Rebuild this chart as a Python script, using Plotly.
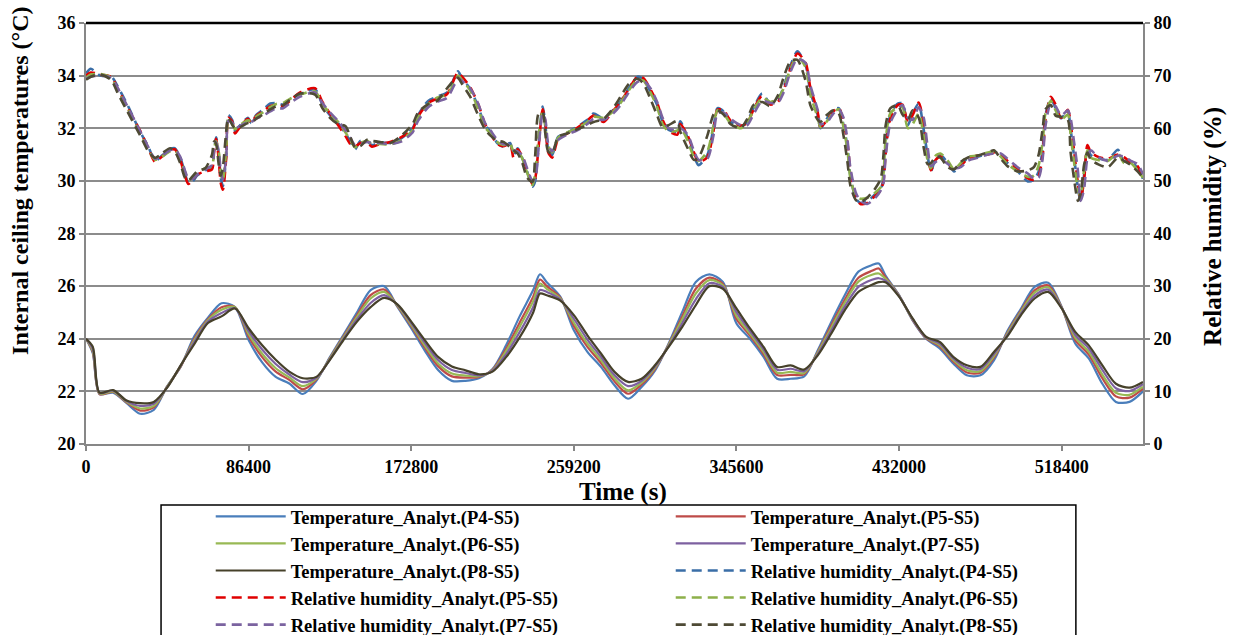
import plotly.graph_objects as go

# ---------------------------------------------------------------------------
# Sampling instants (hours) of the internal ceiling temperature series
temp_hours = ([0, 1, 2] + list(range(4, 67, 2)) + [67]
              + list(range(68, 117, 2)) + [117] + list(range(118, 157, 2)))

temp_p4 = [24.0, 23.45, 21.9,
           21.95, 21.55, 21.15, 21.3, 22.2, 22.95, 24.1, 24.8, 25.35, 25.2,
           23.95, 23.1, 22.55, 22.3, 21.9, 22.4, 23.3, 24.15, 25.0, 25.85,
           26.0, 25.2, 24.4, 23.55, 22.8, 22.4, 22.4, 22.5, 22.85, 23.75,
           24.85, 25.85,
           26.45,
           26.15, 25.6, 24.32, 23.5, 22.93, 22.23, 21.72, 22.17, 22.8, 23.82,
           25.02, 26.16, 26.45, 26.16, 24.58, 24.0, 23.31, 22.48, 22.48, 22.57,
           23.56, 24.64, 25.66, 26.55, 26.8,
           26.86,
           26.4, 25.66, 24.7, 24.0, 23.63, 23.06, 22.61, 22.61, 23.18, 24.3,
           25.15, 25.97, 26.13, 25.21, 23.82, 23.25, 22.29, 21.6, 21.6, 22.0]

temp_p5 = [24.0, 23.5, 21.9,
           21.98, 21.58, 21.27, 21.39, 22.19, 22.96, 24.01, 24.74, 25.2, 25.2,
           24.09, 23.3, 22.75, 22.44, 22.08, 22.45, 23.27, 24.09, 24.9, 25.66,
           25.87, 25.23, 24.48, 23.67, 22.95, 22.57, 22.52, 22.55, 22.82, 23.62,
           24.61, 25.6,
           26.25,
           26.0, 25.56, 24.49, 23.69, 23.08, 22.38, 21.91, 22.26, 22.86, 23.78,
           24.85, 25.9, 26.32, 26.08, 24.75, 24.12, 23.42, 22.62, 22.63, 22.65,
           23.5, 24.51, 25.49, 26.32, 26.58,
           26.67,
           26.33, 25.64, 24.72, 24.02, 23.71, 23.14, 22.72, 22.71, 23.28, 24.24,
           25.08, 25.84, 26.03, 25.19, 23.95, 23.4, 22.5, 21.81, 21.76, 22.11]

temp_p6 = [24.0, 23.55, 21.92,
           22.0, 21.6, 21.35, 21.45, 22.18, 22.98, 23.95, 24.7, 25.1, 25.2,
           24.18, 23.43, 22.88, 22.53, 22.2, 22.48, 23.25, 24.05, 24.83, 25.53,
           25.78, 25.25, 24.53, 23.75, 23.05, 22.68, 22.6, 22.58, 22.8, 23.53,
           24.45, 25.43,
           26.1,
           25.9, 25.53, 24.61, 23.82, 23.19, 22.49, 22.04, 22.33, 22.9, 23.76,
           24.74, 25.72, 26.23, 26.03, 24.87, 24.2, 23.5, 22.71, 22.74, 22.7,
           23.47, 24.42, 25.38, 26.17, 26.43,
           26.48,
           26.28, 25.63, 24.74, 24.04, 23.76, 23.19, 22.8, 22.77, 23.34, 24.2,
           25.03, 25.75, 25.96, 25.18, 24.04, 23.5, 22.64, 21.95, 21.87, 22.18]

temp_p7 = [24.0, 23.62, 21.94,
           22.03, 21.63, 21.45, 21.53, 22.16, 22.99, 23.88, 24.65, 24.98, 25.16,
           24.29, 23.59, 23.04, 22.64, 22.35, 22.51, 23.22, 24.0, 24.74, 25.36,
           25.66, 25.28, 24.59, 23.85, 23.18, 22.81, 22.7, 22.61, 22.78, 23.41,
           24.25, 25.21,
           25.85,
           25.78, 25.49, 24.76, 23.97, 23.31, 22.61, 22.2, 22.4, 22.95, 23.72,
           24.59, 25.5, 26.11, 25.97, 25.01, 24.29, 23.6, 22.82, 22.86, 22.77,
           23.42, 24.31, 25.23, 25.97, 26.24,
           26.3,
           26.21, 25.62, 24.75, 24.05, 23.82, 23.25, 22.9, 22.85, 23.42, 24.15,
           24.96, 25.64, 25.87, 25.17, 24.15, 23.63, 22.82, 22.12, 22.01, 22.27]

temp_p8 = [24.0, 23.7, 21.95,
           22.05, 21.65, 21.55, 21.6, 22.15, 23.0, 23.8, 24.6, 24.85, 25.15,
           24.4, 23.75, 23.2, 22.75, 22.5, 22.55, 23.2, 23.95, 24.65, 25.2,
           25.55, 25.3, 24.65, 23.95, 23.3, 22.95, 22.8, 22.65, 22.75, 23.3,
           24.05, 25.0,
           25.72,
           25.65, 25.45, 24.9, 24.13, 23.44, 22.74, 22.36, 22.48, 23.0, 23.69,
           24.45, 25.28, 26.0, 25.9, 25.15, 24.39, 23.69, 22.93, 22.99, 22.83,
           23.37, 24.2, 25.09, 25.78, 26.05,
           26.15,
           26.15, 25.6, 24.77, 24.07, 23.88, 23.31, 22.99, 22.93, 23.5, 24.1,
           24.9, 25.53, 25.78, 25.15, 24.26, 23.75, 22.99, 22.29, 22.14, 22.36]

# ---------------------------------------------------------------------------
# Sampling instants (hours) of the relative humidity series
hum_hours = [0.0, 0.7, 2.1, 3.7, 4.7, 6.1, 8.0, 9.2, 10.2, 11.2,
             12.4, 13.1, 13.9, 14.6, 15.1, 15.8, 16.4, 17.6, 18.6, 18.9,
             19.2, 19.6, 19.9, 20.2, 20.7, 21.0, 21.6, 22.0, 22.7, 23.9,
             24.4, 25.1, 26.1, 27.2, 28.1, 29.1, 30.1, 31.6, 33.8, 34.9,
             36.0, 37.2, 38.3, 39.0, 39.7, 40.5, 41.5, 42.2, 43.4, 44.9,
             46.4, 48.2, 49.0, 50.5, 51.8, 53.3, 54.5, 54.9, 55.5, 56.7,
             57.9, 58.9, 59.7, 60.7, 61.6, 62.6, 63.1, 63.7, 64.4, 65.1,
             65.9, 66.3, 66.8, 67.4, 67.8, 68.2, 68.8, 69.7, 71.0, 72.5,
             74.0, 74.9, 76.4, 77.8, 78.9, 80.1, 81.4, 82.3, 83.3, 84.3,
             85.1, 86.0, 87.3, 87.7, 88.8, 89.7, 90.4, 91.7, 92.6, 93.2,
             94.1, 95.1, 96.6, 97.6, 98.5, 99.8, 101.0, 102.1, 102.9, 104.0,
             105.0, 106.2, 106.9, 108.0, 108.4, 109.4, 110.3, 111.1, 111.8, 112.4,
             112.8, 113.6, 114.3, 115.3, 116.5, 117.3, 117.7, 118.0, 118.7, 119.8,
             120.5, 121.3, 122.0, 122.9, 123.6, 124.2, 124.7, 125.4, 126.1, 127.2,
             128.1, 129.1, 130.1, 131.6, 133.1, 134.0, 135.0, 136.0, 137.5, 139.0,
             139.9, 140.6, 141.2, 141.6, 142.4, 143.1, 143.9, 144.9, 145.3, 145.8,
             146.4, 146.8, 147.3, 147.8, 148.3, 149.3, 150.8, 152.3, 153.2, 154.2,
             155.2, 156.0]

rh_p4 = [70.4, 71.3, 70.0, 69.9, 67.9, 64.5, 59.3, 56.5, 53.8, 54.8,
         56.0, 56.2, 54.5, 51.5, 49.6, 50.0, 51.0, 52.0, 52.5, 56.0,
         58.3, 55.0, 50.5, 49.0, 55.0, 62.5, 61.5, 59.5, 60.5, 62.0,
         61.0, 62.5, 63.5, 64.7, 64.8, 64.5, 65.5, 66.5, 67.4, 64.5,
         62.5, 61.0, 59.0, 57.5, 56.0, 57.6, 57.5, 56.8, 57.3, 57.2,
         58.0, 60.0, 62.5, 65.2, 66.0, 66.8, 70.0, 70.8, 69.5, 67.5,
         64.0, 60.6, 59.4, 57.2, 56.5, 57.2, 54.9, 56.2, 54.3, 51.8,
         48.9, 50.0, 57.5, 64.1, 60.6, 56.2, 54.9, 58.4, 59.1, 60.3,
         61.6, 62.8, 61.9, 63.5, 65.1, 67.6, 69.8, 69.2, 67.0, 64.4,
         61.3, 59.7, 59.4, 61.3, 58.1, 54.9, 53.0, 54.9, 60.0, 63.8,
         63.2, 61.3, 60.3, 61.3, 63.8, 66.6, 64.7, 65.4, 67.6, 72.0,
         74.6, 72.0, 67.0, 62.5, 60.0, 61.9, 63.5, 63.8, 60.6, 56.2,
         51.1, 46.7, 45.8, 46.1, 47.5, 48.5, 50.5, 56.2, 62.5, 64.7,
         64.7, 60.6, 62.8, 64.7, 60.0, 54.9, 51.8, 54.3, 54.9, 53.4,
         51.8, 53.0, 54.3, 54.6, 55.2, 55.6, 54.9, 53.4, 51.8, 49.9,
         50.2, 51.8, 56.2, 62.5, 65.7, 63.8, 61.9, 63.2, 60.0, 54.9,
         48.6, 46.1, 51.1, 56.2, 54.9, 54.3, 54.0, 55.9, 53.7, 53.7,
         52.4, 50.4]

rh_p5 = [70.0, 70.6, 70.2, 69.8, 67.5, 64.0, 59.5, 56.2, 53.6, 54.6,
         55.8, 56.0, 54.0, 51.0, 49.4, 50.3, 51.2, 51.8, 52.2, 55.5,
         58.0, 54.0, 49.5, 48.3, 54.5, 62.0, 61.2, 59.0, 60.2, 61.8,
         61.0, 62.3, 63.2, 64.2, 64.5, 64.2, 65.2, 66.8, 67.6, 65.0,
         62.8, 60.6, 58.5, 57.0, 56.5, 57.2, 57.3, 56.5, 57.0, 57.4,
         58.2, 59.8, 62.2, 64.8, 65.6, 66.5, 69.8, 70.6, 69.8, 67.8,
         64.5, 60.8, 59.0, 57.0, 56.6, 57.0, 54.4, 56.0, 54.6, 52.0,
         49.4, 50.5, 56.5, 63.6, 61.0, 55.5, 54.4, 58.0, 59.0, 60.1,
         61.5, 62.4, 61.2, 63.3, 65.0, 67.4, 69.8, 69.5, 67.4, 64.8,
         61.6, 59.5, 58.8, 60.8, 58.6, 55.5, 53.6, 54.5, 59.4, 63.5,
         63.4, 61.5, 60.5, 61.0, 63.5, 66.2, 64.5, 65.0, 67.0, 71.5,
         74.2, 72.5, 67.8, 63.0, 60.2, 61.6, 63.2, 63.9, 61.2, 57.0,
         52.0, 47.0, 45.6, 45.8, 47.2, 48.2, 50.0, 55.0, 61.8, 64.4,
         64.5, 61.2, 62.5, 64.9, 61.0, 55.5, 52.0, 54.0, 54.6, 53.5,
         52.0, 52.8, 54.2, 54.8, 55.0, 55.4, 55.0, 53.8, 52.2, 50.5,
         50.2, 51.0, 55.0, 61.5, 66.0, 64.5, 62.0, 63.5, 61.0, 56.0,
         49.5, 46.5, 50.0, 56.8, 55.5, 54.6, 54.2, 55.0, 54.5, 53.5,
         52.8, 50.2]

rh_p6 = [69.6, 70.2, 70.3, 69.6, 67.2, 63.8, 59.0, 56.0, 54.0, 54.6,
         55.6, 55.8, 54.2, 51.8, 50.2, 50.6, 51.5, 52.4, 52.8, 56.2,
         57.5, 55.5, 51.5, 50.0, 56.0, 61.8, 60.8, 59.8, 60.6, 61.5,
         61.4, 62.2, 63.0, 64.0, 64.6, 64.8, 65.6, 66.4, 67.0, 64.6,
         62.8, 61.2, 59.2, 57.8, 56.4, 57.2, 57.6, 57.0, 57.0, 56.9,
         57.6, 59.6, 62.0, 64.6, 65.8, 66.4, 69.0, 70.0, 69.2, 67.2,
         63.6, 60.2, 59.0, 57.4, 56.8, 57.0, 55.6, 55.8, 54.2, 51.6,
         49.2, 51.5, 58.5, 63.2, 60.2, 56.8, 55.4, 58.2, 59.2, 60.0,
         61.2, 62.2, 62.0, 63.2, 64.8, 67.2, 69.2, 69.0, 66.8, 64.0,
         60.8, 59.4, 59.6, 60.2, 57.6, 54.6, 53.8, 55.6, 60.4, 63.4,
         62.8, 61.0, 60.0, 61.0, 63.4, 65.8, 65.0, 65.6, 67.4, 71.4,
         73.6, 71.6, 66.4, 62.0, 60.2, 61.4, 63.0, 63.6, 60.2, 55.6,
         50.6, 47.2, 46.6, 46.8, 47.8, 48.8, 51.4, 57.6, 62.8, 64.0,
         64.0, 60.0, 60.8, 62.8, 58.8, 54.0, 52.4, 54.8, 55.2, 53.8,
         52.2, 53.4, 54.6, 54.8, 55.4, 55.6, 54.6, 53.2, 51.8, 50.8,
         51.0, 53.0, 57.5, 62.8, 65.2, 63.4, 61.6, 62.6, 59.0, 53.8,
         48.4, 47.0, 52.0, 55.8, 54.4, 54.0, 53.8, 55.2, 53.4, 53.4,
         52.0, 50.6]

rh_p7 = [69.4, 69.8, 70.0, 69.6, 67.6, 64.2, 59.4, 56.4, 54.2, 54.8,
         55.8, 56.0, 54.6, 52.0, 50.4, 50.4, 51.2, 52.2, 53.0, 55.8,
         57.4, 55.4, 51.8, 50.2, 54.6, 61.4, 61.0, 60.0, 60.4, 61.2,
         61.2, 61.8, 62.4, 63.2, 63.8, 63.8, 64.8, 66.0, 66.8, 64.8,
         63.0, 61.4, 59.6, 58.2, 56.8, 57.0, 57.4, 57.2, 57.2, 57.0,
         57.4, 59.2, 61.4, 64.0, 65.0, 65.8, 68.6, 69.6, 69.0, 67.6,
         64.6, 61.0, 59.6, 57.8, 57.0, 56.8, 55.8, 55.6, 54.8, 52.4,
         50.0, 50.4, 56.4, 62.8, 61.6, 57.2, 55.6, 57.8, 58.8, 59.6,
         60.8, 61.8, 61.6, 62.8, 64.4, 66.8, 68.8, 69.0, 67.6, 65.0,
         62.0, 60.0, 59.6, 60.0, 58.8, 55.8, 54.0, 54.2, 58.6, 62.8,
         63.0, 61.8, 60.6, 60.6, 62.6, 65.2, 64.8, 64.8, 66.6, 70.8,
         73.2, 72.4, 68.2, 63.4, 60.8, 61.2, 62.8, 63.6, 62.0, 57.6,
         52.6, 47.8, 46.2, 45.6, 46.8, 48.2, 49.6, 54.2, 61.0, 63.6,
         64.4, 62.0, 61.6, 64.0, 62.2, 56.6, 52.8, 53.6, 54.2, 53.2,
         52.4, 52.6, 53.8, 54.4, 55.0, 55.2, 55.2, 54.2, 52.6, 51.4,
         50.4, 50.6, 54.4, 60.4, 64.8, 64.2, 62.4, 63.4, 62.0, 57.6,
         51.8, 46.2, 48.4, 54.4, 55.8, 54.6, 53.8, 54.8, 54.6, 53.8,
         53.2, 51.2]

rh_p8 = [69.2, 69.8, 70.2, 69.2, 66.6, 63.2, 58.6, 55.6, 54.4, 55.2,
         56.2, 55.6, 53.4, 50.6, 50.0, 51.0, 51.8, 52.4, 55.0, 57.5,
         57.0, 53.0, 51.0, 52.5, 59.5, 62.0, 60.6, 60.0, 60.2, 61.0,
         61.0, 61.8, 62.6, 63.6, 64.2, 64.4, 65.4, 66.6, 66.4, 63.8,
         62.0, 60.8, 60.4, 58.4, 56.4, 56.6, 57.8, 57.6, 57.4, 57.2,
         58.4, 60.8, 63.0, 64.6, 65.2, 67.6, 69.4, 69.6, 68.4, 66.0,
         62.4, 59.8, 58.6, 57.6, 57.4, 56.4, 55.8, 55.2, 53.4, 50.6,
         49.8, 55.0, 62.8, 63.0, 58.8, 55.6, 55.2, 58.4, 59.0, 59.8,
         60.6, 61.2, 61.8, 63.8, 66.0, 68.4, 69.4, 68.4, 65.6, 62.4,
         60.2, 60.6, 61.4, 59.4, 56.2, 54.0, 54.4, 58.6, 62.6, 63.4,
         62.6, 60.8, 60.0, 61.8, 64.4, 65.0, 64.2, 66.2, 69.4, 72.8,
         73.0, 69.0, 64.4, 61.6, 61.2, 62.6, 63.4, 62.8, 58.6, 53.4,
         49.2, 46.4, 46.0, 46.8, 48.6, 50.4, 55.0, 60.4, 63.8, 64.4,
         62.6, 61.6, 63.4, 62.0, 56.6, 53.2, 53.4, 54.6, 54.4, 52.6,
         52.2, 53.6, 54.4, 54.8, 55.4, 55.8, 54.2, 52.8, 51.8, 52.0,
         52.6, 55.0, 60.0, 63.6, 64.4, 62.4, 62.2, 61.6, 55.6, 50.6,
         46.2, 47.6, 53.0, 55.4, 54.0, 53.2, 52.6, 54.4, 53.8, 53.0,
         51.8, 50.6]

# Time axis ticks (one per day, in seconds)
time_ticks = [0, 86400, 172800, 259200, 345600, 432000, 518400]
time_tick_labels = ["0", "86400", "172800", "259200", "345600", "432000", "518400"]

sensors = ["P4-S5", "P5-S5", "P6-S5", "P7-S5", "P8-S5"]
temp_values = [temp_p4, temp_p5, temp_p6, temp_p7, temp_p8]
rh_values = [rh_p4, rh_p5, rh_p6, rh_p7, rh_p8]

temp_colors = ["#4A7EBB", "#BE4B48", "#98B954", "#7D60A0", "#46412A"]
rh_colors = ["#3A6EA7", "#E00000", "#8DB04A", "#7B63A0", "#4E4A35"]

SERIF = "Times New Roman, Liberation Serif, serif"
AXIS_GREY = "#878787"

temp_secs = [h * 3600 for h in temp_hours]
hum_secs = [h * 3600 for h in hum_hours]

fig = go.Figure()

for s, vals, c in zip(sensors, temp_values, temp_colors):
    fig.add_trace(go.Scatter(
        x=temp_secs, y=vals, mode="lines",
        name=f"Temperature_Analyt.({s})",
        line=dict(color=c, width=2.2, shape="spline", smoothing=0.8),
        yaxis="y"))

for s, vals, c in zip(sensors, rh_values, rh_colors):
    fig.add_trace(go.Scatter(
        x=hum_secs, y=vals, mode="lines",
        name=f"Relative humidity_Analyt.({s})",
        line=dict(color=c, width=2.6, dash="10px,6px", shape="spline", smoothing=0.7),
        yaxis="y2"))

tick_font = dict(family=SERIF, size=18, color="black", weight="bold")


def title_font(size):
    return dict(family=SERIF, size=size, color="black", weight="bold")


fig.update_layout(
    width=1233, height=635,
    paper_bgcolor="white", plot_bgcolor="white",
    margin=dict(l=86, r=90, t=23, b=191, autoexpand=False),
    font=dict(family=SERIF, color="black"),
    showlegend=True,
    xaxis=dict(
        range=[0, 561600], tickmode="array",
        tickvals=time_ticks, ticktext=time_tick_labels,
        ticks="outside", ticklen=5, tickwidth=1.5, tickcolor=AXIS_GREY,
        showline=True, linecolor=AXIS_GREY, linewidth=2,
        showgrid=False, zeroline=False, tickfont=tick_font,
    ),
    yaxis=dict(
        range=[20, 36], dtick=2, tick0=20,
        ticks="outside", ticklen=5, tickwidth=1.5, tickcolor=AXIS_GREY,
        showline=True, linecolor=AXIS_GREY, linewidth=2,
        showgrid=True, gridcolor="#8C8C8C", gridwidth=1.5,
        zeroline=False, tickfont=tick_font,
    ),
    yaxis2=dict(
        range=[0, 80], dtick=10, tick0=0,
        overlaying="y", side="right",
        ticks="outside", ticklen=5, tickwidth=1.5, tickcolor=AXIS_GREY,
        showline=True, linecolor=AXIS_GREY, linewidth=2,
        showgrid=False, zeroline=False, tickfont=tick_font,
    ),
    legend=dict(
        orientation="h", x=0.118, y=-0.128, xanchor="left", yanchor="top",
        entrywidth=375, entrywidthmode="pixels", itemwidth=70,
        font=dict(family=SERIF, size=18.5, color="black", weight="bold"),
        bgcolor="rgba(0,0,0,0)", borderwidth=0, tracegroupgap=0,
    ),
    annotations=[
        dict(text="Internal ceiling temperatures (°C)", textangle=-90,
             xref="paper", yref="paper", x=-0.0624, y=0.625,
             xanchor="center", yanchor="middle", showarrow=False,
             font=title_font(24)),
        dict(text="Relative humidity (%)", textangle=-90,
             xref="paper", yref="paper", x=1.0662, y=0.518,
             xanchor="center", yanchor="middle", showarrow=False,
             font=title_font(25)),
        dict(text="Time (s)",
             xref="paper", yref="paper", x=0.508, y=-0.114,
             xanchor="center", yanchor="middle", showarrow=False,
             font=title_font(25)),
    ],
    shapes=[
        # black frame line along the top of the plotting area
        dict(type="line", xref="paper", yref="paper", x0=0, x1=1, y0=1, y1=1,
             line=dict(color="black", width=2.5)),
        # legend frame
        dict(type="rect", xref="paper", yref="paper",
             x0=0.071, x1=0.9365, y0=-0.145, y1=-0.5,
             line=dict(color="black", width=1.5), fillcolor="rgba(0,0,0,0)"),
    ],
)

fig.write_html("out.html")
